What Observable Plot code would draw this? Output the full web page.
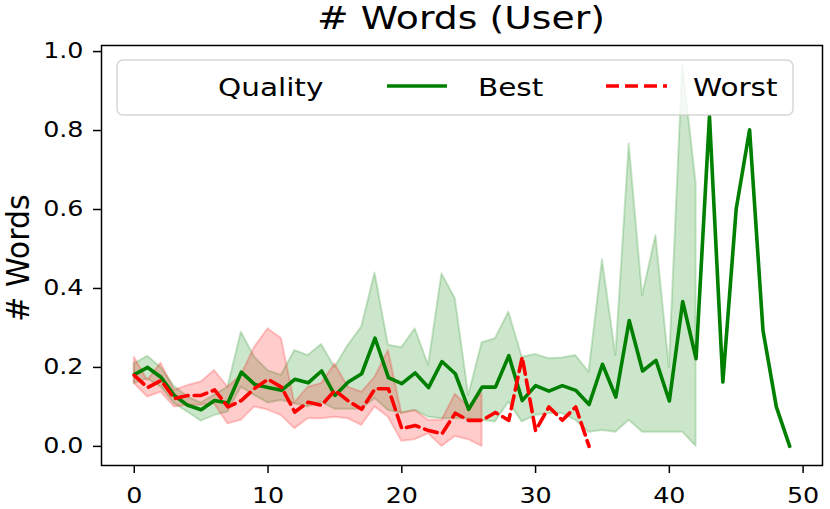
<!DOCTYPE html>
<html><head><meta charset="utf-8">
<script src="https://cdn.jsdelivr.net/npm/d3@7"></script>
<script src="https://cdn.jsdelivr.net/npm/@observablehq/plot@0.6"></script>
<style>body{margin:0;background:#fff} svg{display:block}</style>
</head><body><div id="chart"></div>
<script>
// Mean "# Words" per position, and confidence band bounds
const bestMean = [0.182,0.200,0.175,0.129,0.104,0.093,0.116,0.110,0.188,0.157,
  0.149,0.142,0.170,0.161,0.191,0.129,0.163,0.184,0.274,0.174,
  0.159,0.186,0.149,0.215,0.184,0.094,0.150,0.150,0.230,0.116,
  0.154,0.140,0.154,0.142,0.106,0.208,0.125,0.319,0.191,0.218,
  0.115,0.367,0.222,0.836,0.163,0.602,0.802,0.294,0.100,0.000];
const bestLow = [0.159,0.171,0.150,0.108,0.087,0.064,0.078,0.087,0.150,0.129,
  0.110,0.116,0.108,0.100,0.112,0.094,0.094,0.094,0.121,0.091,
  0.084,0.091,0.074,0.070,0.070,0.070,0.066,0.062,0.112,0.062,
  0.078,0.083,0.083,0.066,0.036,0.040,0.036,0.066,0.036,0.036,
  0.036,0.036,0.000];
const bestHigh = [0.209,0.228,0.200,0.152,0.125,0.110,0.130,0.150,0.289,0.226,
  0.192,0.180,0.243,0.230,0.258,0.200,0.256,0.302,0.439,0.256,
  0.250,0.298,0.205,0.437,0.374,0.129,0.262,0.273,0.340,0.226,
  0.233,0.222,0.224,0.230,0.188,0.473,0.230,0.766,0.382,0.534,
  0.200,0.967,0.667];
const worstMean = [0.180,0.149,0.167,0.121,0.129,0.129,0.143,0.100,0.116,0.147,
  0.170,0.150,0.087,0.112,0.104,0.142,0.115,0.094,0.146,0.146,
  0.045,0.053,0.040,0.032,0.084,0.066,0.066,0.086,0.066,0.226,
  0.040,0.100,0.066,0.100,0.000];
const worstLow = [0.159,0.125,0.137,0.100,0.104,0.104,0.108,0.057,0.066,0.100,
  0.092,0.078,0.045,0.070,0.070,0.074,0.070,0.053,0.100,0.074,
  0.013,0.017,0.032,0.000,0.025,0.017,0.000];
const worstHigh = [0.226,0.167,0.211,0.142,0.154,0.163,0.192,0.150,0.180,0.251,
  0.298,0.273,0.110,0.150,0.159,0.209,0.150,0.137,0.175,0.243,
  0.084,0.091,0.066,0.066,0.132,0.100,0.134];

const legendTitle = "Quality";
const seriesNames = ["Best", "Worst"];
const titleText = "# Words (User)";
const yLabel = "# Words";
const xTicks = [0, 10, 20, 30, 40, 50];
const yTicks = [0.0, 0.2, 0.4, 0.6, 0.8, 1.0];

const best = bestMean.map((y, i) => ({x: i, y}));
const worst = worstMean.map((y, i) => ({x: i, y}));
const bestBand = bestLow.map((lo, i) => ({x: i, lo, hi: bestHigh[i]}));
const worstBand = worstLow.map((lo, i) => ({x: i, lo, hi: worstHigh[i]}));

const S = 1.18; // horizontal text stretch of the reference
const FONT = "DejaVu Sans";

const chart = Plot.plot({
  width: 830, height: 509,
  marginLeft: 101, marginRight: 8, marginTop: 45, marginBottom: 44,
  x: {domain: [-2.45, 51.45]},
  y: {domain: [-0.0484, 1.0154]},
  style: {fontFamily: FONT, background: "white", color: "black"},
  marks: [
    Plot.areaY(bestBand, {x: "x", y1: "lo", y2: "hi", fill: "green", fillOpacity: 0.2, stroke: "green", strokeOpacity: 0.2, strokeWidth: 2}),
    Plot.areaY(worstBand, {x: "x", y1: "lo", y2: "hi", fill: "red", fillOpacity: 0.2, stroke: "red", strokeOpacity: 0.2, strokeWidth: 2}),
    Plot.line(best, {x: "x", y: "y", stroke: "green", strokeWidth: 3.6}),
    Plot.line(worst, {x: "x", y: "y", stroke: "red", strokeWidth: 3.6, strokeDasharray: "13,6"}),
    Plot.frame({stroke: "black", strokeWidth: 1.5}),
    Plot.axisX({ticks: xTicks, tickSize: 8, tickPadding: 14, fontSize: 21.5, strokeWidth: 1.5, tickFormat: d => String(d), label: null}),
    Plot.axisY({ticks: yTicks, tickSize: 8, tickPadding: 10, fontSize: 21.5, strokeWidth: 1.5, tickFormat: d3.format(".1f"), label: null})
  ]
});

// stretch tick labels horizontally like the reference
chart.querySelectorAll("text").forEach(t => {
  const tr = t.getAttribute("transform");
  if (tr) t.setAttribute("transform", tr + ` scale(${S},1)`);
  else {
    const x = +(t.getAttribute("x") || 0), y = +(t.getAttribute("y") || 0);
    t.setAttribute("x", 0); t.setAttribute("y", 0);
    t.setAttribute("transform", `translate(${x},${y}) scale(${S},1)`);
  }
});

const svg = d3.select(chart);
svg.append("text").text(titleText)
  .attr("transform", `translate(461,29) scale(${S},1)`)
  .attr("text-anchor", "middle").attr("font-size", 32).attr("font-family", FONT).attr("fill", "black");
svg.append("text").text(yLabel)
  .attr("transform", `translate(29,258) scale(1.08,1) rotate(-90)`)
  .attr("text-anchor", "middle").attr("font-size", 30).attr("font-family", FONT).attr("fill", "black");

// legend
const lg = svg.append("g");
lg.append("rect").attr("x", 117).attr("y", 60).attr("width", 676).attr("height", 55)
  .attr("rx", 6).attr("fill", "white").attr("fill-opacity", 0.8)
  .attr("stroke", "#cccccc").attr("stroke-opacity", 0.8).attr("stroke-width", 1.5);
const addText = (s, x) => lg.append("text").text(s)
  .attr("transform", `translate(${x},96) scale(${S},1)`)
  .attr("text-anchor", "start")
  .attr("font-size", 25).attr("font-family", FONT).attr("fill", "black");
addText(legendTitle, 218);
lg.append("line").attr("x1", 387).attr("x2", 447).attr("y1", 86).attr("y2", 86)
  .attr("stroke", "green").attr("stroke-width", 3.6);
addText(seriesNames[0], 478);
lg.append("line").attr("x1", 606).attr("x2", 667).attr("y1", 86).attr("y2", 86)
  .attr("stroke", "red").attr("stroke-width", 3.6).attr("stroke-dasharray", "13,6");
addText(seriesNames[1], 693);

document.getElementById("chart").appendChild(chart);
</script>
</body></html>
